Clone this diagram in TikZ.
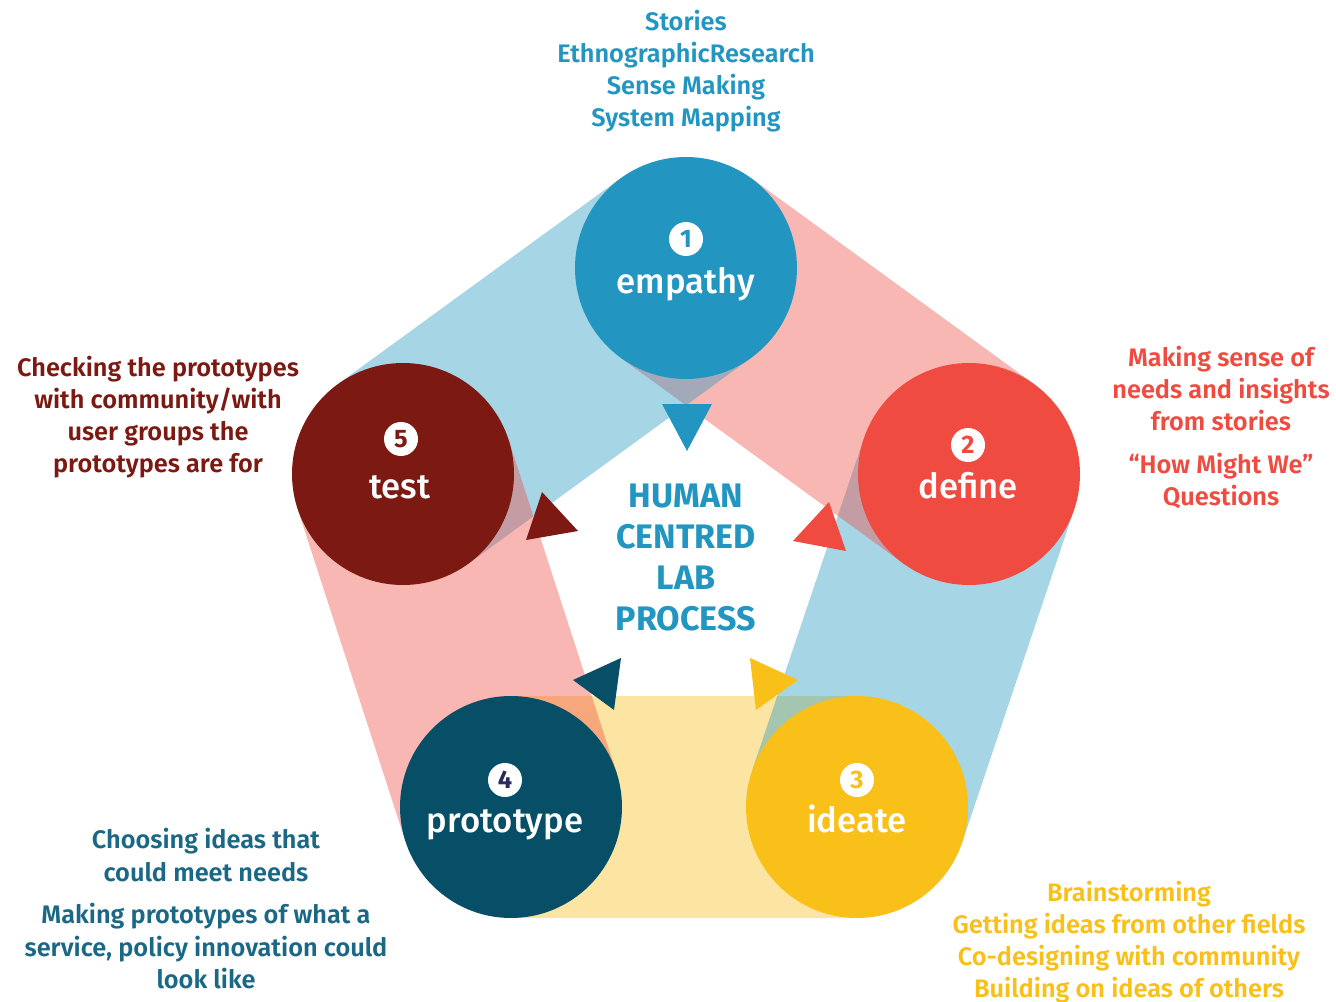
\documentclass[tikz,border=0pt]{standalone}
\usepackage{fontspec}
\setmainfont{Fira Sans}
\newfontfamily\fsemi{Fira Sans SemiBold}
\newfontfamily\fmed{Fira Sans Medium}
\usetikzlibrary{calc}
\definecolor{cE}{HTML}{2296C1}
\definecolor{cD}{HTML}{EF4B40}
\definecolor{cI}{HTML}{F8C019}
\definecolor{cP}{HTML}{064F66}
\definecolor{cT}{HTML}{7B1912}
\definecolor{cPtxt}{HTML}{1A6886}
\definecolor{cFour}{HTML}{2A2B5A}
\newcommand\bandR{83.25pt}
\newcommand\myband[3]{\fill[#3, opacity=.4] ($(#1)!\bandR!90:(#2)$) -- ($(#2)!\bandR!-90:(#1)$) -- ($(#2)!\bandR!90:(#1)$) -- ($(#1)!\bandR!-90:(#2)$) -- cycle;}
\tikzset{
  circ/.style={circle, minimum size=166.5pt, inner sep=0pt},
  badge/.style={circle, fill=white, minimum size=25.5pt, inner sep=0pt, font=\bfseries\fontsize{19}{19}\selectfont},
  lab/.style={anchor=base, text=white, inner sep=0pt, font=\fmed\fontsize{26}{26}\selectfont},
  ctr/.style={anchor=base, text=cE, inner sep=0pt, font=\bfseries\fontsize{25.5}{25.5}\selectfont},
  side/.style={anchor=base, inner sep=0pt, font=\fsemi\fontsize{19}{19}\selectfont}
}
\begin{document}
\begin{tikzpicture}[x=0.75pt,y=-0.75pt]
\useasboundingbox (0,0) rectangle (1336,1002);
\fill[white] (0,0) rectangle (1336,1002);
% circle centres
\coordinate (E) at (686,268);
\coordinate (D) at (969,474);
\coordinate (I) at (857,807);
\coordinate (P) at (511,807);
\coordinate (T) at (403,474);
% bands
\myband{I}{P}{cI}
\myband{D}{I}{cE}
\myband{E}{D}{cD}
\myband{T}{E}{cE}
\myband{P}{T}{cD}
% circles
\node[circ, fill=cE] (nE) at (E) {};
\node[circ, fill=cD] (nD) at (D) {};
\node[circ, fill=cI] (nI) at (I) {};
\node[circ, fill=cP] (nP) at (P) {};
\node[circ, fill=cT] (nT) at (T) {};
% badges
\node[badge, text=cE] (bE) at (686,239) {1};
\node[badge, text=cD] (bD) at (968,445) {2};
\node[badge, text=cI] (bI) at (857,780) {3};
\node[badge, text=cFour] (bP) at (505,780) {4};
\node[badge, text=cT] (bT) at (401,439) {5};
% labels
\node[lab] (lE) at (686,293) {empathy};
\node[lab] (lD) at (968,498) {define};
\node[lab] (lI) at (857,832) {ideate};
\node[lab] (lP) at (505,832) {prototype};
\node[lab] (lT) at (400,498) {test};
% triangles
\fill[cE] (662,404) -- (712,404) -- (687,451) -- cycle;
\fill[cD] (829,502) -- (846,551) -- (793,541) -- cycle;
\fill[cI] (750,658) -- (798,680) -- (756,710) -- cycle;
\fill[cP] (621,658) -- (614,710) -- (573,680) -- cycle;
\fill[cT] (542,492) -- (578,531) -- (526,540) -- cycle;
% centre text
\node[ctr] (c1) at (686,507) {HUMAN};
\node[ctr] (c2) at (686,548) {CENTRED};
\node[ctr] (c3) at (686,589) {LAB};
\node[ctr] (c4) at (686,630) {PROCESS};
% top text
\node[side, text=cE] (s1) at (686,31) {Stories};
\node[side, text=cE] (s2) at (686,63) {EthnographicResearch};
\node[side, text=cE] (s3) at (686,95) {Sense Making};
\node[side, text=cE] (s4) at (686,127) {System Mapping};
% right text
\node[side, text=cD] (r1) at (1221,366) {Making sense of};
\node[side, text=cD] (r2) at (1221,398) {needs and insights};
\node[side, text=cD] (r3) at (1221,430) {from stories};
\node[side, text=cD] (r4) at (1221,473) {“How Might We”};
\node[side, text=cD] (r5) at (1221,505) {Questions};
% left top text
\node[side, text=cT] (l1) at (158,376) {Checking the prototypes};
\node[side, text=cT] (l2) at (158,408) {with community/with};
\node[side, text=cT] (l3) at (158,440) {user groups the};
\node[side, text=cT] (l4) at (158,472) {prototypes are for};
% bottom left text
\node[side, text=cPtxt] (p1) at (206,848) {Choosing ideas that};
\node[side, text=cPtxt] (p2) at (206,881) {could meet needs};
\node[side, text=cPtxt] (p3) at (206,923) {Making prototypes of what a};
\node[side, text=cPtxt] (p4) at (206,956) {service, policy innovation could};
\node[side, text=cPtxt] (p5) at (206,988) {look like};
% bottom right text
\node[side, text=cI] (i1) at (1129,901) {Brainstorming};
\node[side, text=cI] (i2) at (1129,933) {Getting ideas from other fields};
\node[side, text=cI] (i3) at (1129,965) {Co-designing with community};
\node[side, text=cI] (i4) at (1129,997) {Building on ideas of others};
\end{tikzpicture}
\end{document}
